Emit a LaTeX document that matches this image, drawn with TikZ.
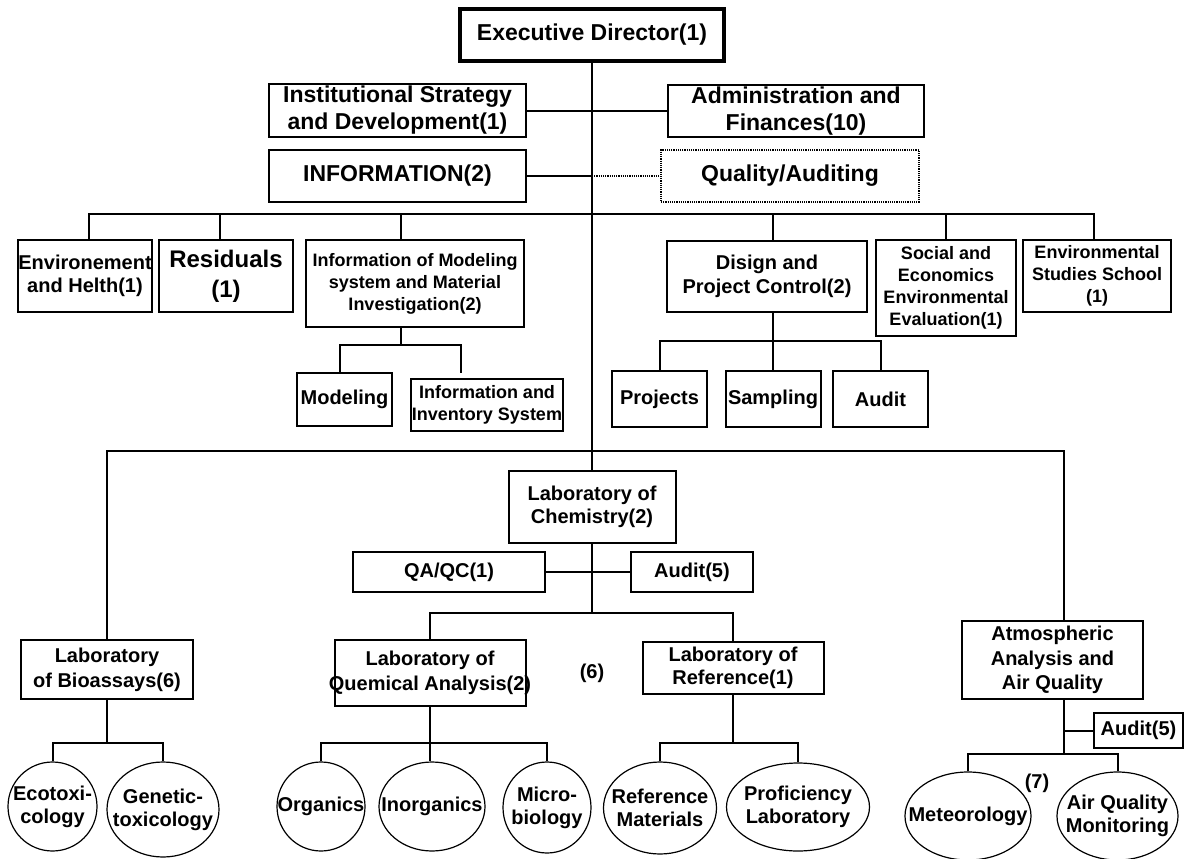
\documentclass[tikz,border=0pt]{standalone}
\usepackage{fontspec}
\setmainfont{Liberation Sans}
\usetikzlibrary{shapes.geometric}
\newcommand{\zc}[1]{\makebox[0pt]{#1}}
\newcommand{\fs}[2]{\fontsize{#1pt}{#2pt}\selectfont}
\begin{document}
\begin{tikzpicture}[x=1pt,y=-1pt,
  box/.style={draw, line width=2pt, rectangle, inner sep=0pt, align=center},
  ell/.style={draw, line width=1.2pt, ellipse, inner sep=0pt, align=center, font=\bfseries\fs{20}{23}},
  conn/.style={line width=2pt},
  dotline/.style={line width=2.4pt, dash pattern=on 1.2pt off 1pt},
  big/.style={font=\bfseries\fs{23}{27}},
  mid/.style={font=\bfseries\fs{20}{23}},
  small/.style={font=\bfseries\fs{18}{22}},
  lbl/.style={inner sep=0pt, font=\bfseries\fs{20}{23}}]
\useasboundingbox (0,0) rectangle (1184,859);
% ---------- top ----------
\node[box, big, line width=3.4pt, minimum width=264pt, minimum height=52pt] (exec) at (592,35) {Executive Director(1)};
\node[box, big, minimum width=257pt, minimum height=53pt] (inst) at (397.5,110.5) {Institutional Strategy\\and Development(1)};
\node[box, big, minimum width=256pt, minimum height=52pt] (admin) at (796,111) {Administration and\\Finances(10)};
\node[box, big, minimum width=257pt, minimum height=52pt] (info) at (397.5,176) {INFORMATION(2)};
\node[draw, dotline, rectangle, inner sep=0pt, big, minimum width=258pt, minimum height=52pt] (qual) at (790,176) {Quality/Auditing};
% ---------- second row ----------
\node[box, font=\bfseries\fs{20}{23}, minimum width=134pt, minimum height=72pt] (envh) at (85,276) {\zc{Environement}\\and Helth(1)};
\node[box, font=\bfseries\fs{24}{30}, minimum width=134pt, minimum height=72pt] (resid) at (226,276) {Residuals\\(1)};
\node[box, small, minimum width=218pt, minimum height=87pt] (infom) at (415,283.5) {Information of Modeling\\system and Material\\Investigation(2)};
\node[box, font=\bfseries\fs{20}{24}, minimum width=200pt, minimum height=71pt] (disign) at (767,276.5) {Disign and\\Project Control(2)};
\node[box, small, minimum width=140pt, minimum height=96pt] (social) at (946,288) {Social and\\Economics\\Environmental\\Evaluation(1)};
\node[box, small, minimum width=148pt, minimum height=72pt] (envs) at (1097,276) {Environmental\\Studies School\\(1)};
% ---------- third row ----------
\node[box, mid, minimum width=95pt, minimum height=53pt] (modl) at (344.5,399.5) {Modeling};
\node[box, small, minimum width=152pt, minimum height=52pt] (inv) at (487,405) {Information and\\\zc{Inventory System}};
\node[box, mid, minimum width=95pt, minimum height=56pt] (proj) at (659.5,399) {Projects};
\node[box, mid, minimum width=95pt, minimum height=56pt] (samp) at (773,399) {Sampling};
\node[box, mid, minimum width=95pt, minimum height=56pt] (aud) at (880.5,399) {Audit};
% ---------- laboratories ----------
\node[box, mid, minimum width=167pt, minimum height=72pt] (chem) at (592,507) {Laboratory of\\Chemistry(2)};
\node[box, mid, minimum width=192pt, minimum height=40pt] (qaqc) at (449,572) {QA/QC(1)};
\node[box, mid, minimum width=122pt, minimum height=40pt] (aud5) at (692,572) {Audit(5)};
\node[box, font=\bfseries\fs{20}{25}, minimum width=172pt, minimum height=59pt] (bio) at (107,669.5) {Laboratory\\of Bioassays(6)};
\node[box, font=\bfseries\fs{20}{25}, minimum width=191pt, minimum height=66pt] (quem) at (430,673) {Laboratory of\\\zc{Quemical Analysis(2)}};
\node[box, mid, minimum width=181pt, minimum height=52pt] (ref) at (733,668) {Laboratory of\\Reference(1)};
\node[box, font=\bfseries\fs{20}{24.5}, minimum width=181pt, minimum height=78pt] (atm) at (1052.5,660) {Atmospheric\\Analysis and\\Air Quality};
\node[box, mid, minimum width=89pt, minimum height=35pt] (aud5b) at (1138.5,730.5) {Audit(5)};
\node[lbl] (six) at (592,673) {(6)};
\node[lbl] (seven) at (1037,783) {(7)};
% ---------- ellipses ----------
\node[ell, minimum width=89pt, minimum height=89pt] (eco) at (52.5,806.5) {\zc{Ecotoxi-}\\\zc{cology}};
\node[ell, minimum width=112pt, minimum height=95pt] (gen) at (163,809.5) {\zc{Genetic-}\\\zc{toxicology}};
\node[ell, minimum width=88pt, minimum height=89pt] (org) at (321,806.5) {\zc{Organics}};
\node[ell, minimum width=106pt, minimum height=89pt] (inorg) at (432,806.5) {\zc{Inorganics}};
\node[ell, minimum width=88pt, minimum height=91pt] (mic) at (547,807.5) {\zc{Micro-}\\\zc{biology}};
\node[ell, minimum width=113pt, minimum height=92pt] (refm) at (660,808) {\zc{Reference}\\\zc{Materials}};
\node[ell, minimum width=143pt, minimum height=88pt] (prof) at (798,807) {\zc{Proficiency}\\\zc{Laboratory}};
\node[ell, minimum width=126pt, minimum height=88pt] (met) at (968,816) {\zc{Meteorology}};
\node[ell, minimum width=121pt, minimum height=88pt] (airq) at (1117.5,816) {\zc{Air Quality}\\\zc{Monitoring}};
% ---------- connectors ----------
\coordinate (b1) at (0,214);
\coordinate (b2) at (0,345);
\coordinate (b3) at (0,341);
\coordinate (b4) at (0,451);
\coordinate (b5) at (0,743);
\coordinate (b6) at (0,753);
\draw[conn] (exec.south) -- (chem.north);
\draw[conn] (inst.east) -- (inst.east -| admin.west);
\draw[conn] (info.east) -- (info.east -| exec.south);
\draw[dotline] (info.east -| exec.south) -- (qual.west);
% first bus
\draw[conn] ([xshift=4pt]envh.north) |- (b1 -| exec.south) -| ([xshift=-3pt]envs.north);
\draw[conn] ([xshift=-6pt]resid.north) -- ++(0,-26);
\draw[conn] ([xshift=-14pt]infom.north) -- ++(0,-26);
\draw[conn] (samp.north |- disign.north) -- ++(0,-27);
\draw[conn] (social.north) -- ++(0,-26);
% information of modeling subtree
\draw[conn] ([xshift=-14pt]infom.south) -- ++(0,18);
\draw[conn] ([xshift=-4.5pt]modl.north) |- ([xshift=-14pt]infom.south |- b2) -- ++(60,0) -- ++(0,28);
% disign subtree
\draw[conn] (samp.north |- disign.south) -- (samp.north);
\draw[conn] (proj.north) |- (samp.north |- b3) -| (aud.north);
% laboratories bus
\draw[conn] (bio.north) |- (exec.south |- b4) -| ([xshift=11.5pt]atm.north);
\draw[conn] (chem.south) -- ++(0,69) coordinate (c1);
\draw[conn] (qaqc.east) -- (aud5.west);
\draw[conn] (quem.north) |- (c1) -| (ref.north);
% bioassays
\draw[conn] (bio.south) -- (bio.south |- b5);
\draw[conn] (eco.north) |- (bio.south |- b5) -| (gen.north);
% quemical
\draw[conn] (quem.south) -- (quem.south |- b5);
\draw[conn] (org.north) |- (quem.south |- b5) -| (mic.north);
\draw[conn] (quem.south |- b5) -- (inorg.north -| quem.south);
% reference
\draw[conn] (ref.south) -- (ref.south |- b5);
\draw[conn] (refm.north) |- (ref.south |- b5) -| (prof.north);
% atmospheric
\draw[conn] ([xshift=11.5pt]atm.south) -- ++(0,54) coordinate (a1);
\draw[conn] (aud5b.west) -- (aud5b.west -| a1);
\draw[conn] (met.north) |- (a1) -| (airq.north);
\end{tikzpicture}
\end{document}
